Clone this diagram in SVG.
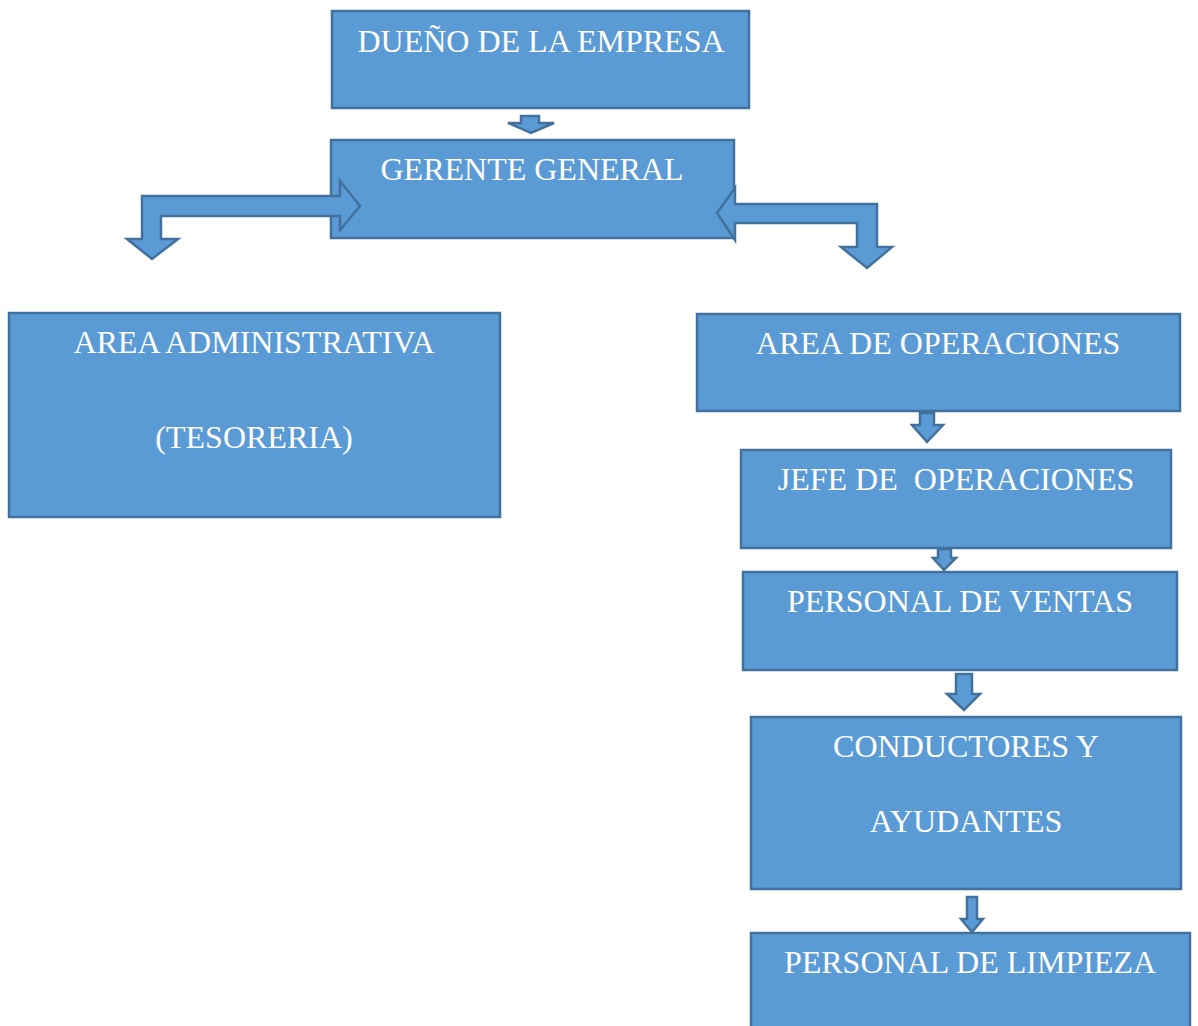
<svg xmlns="http://www.w3.org/2000/svg" width="1198" height="1026" viewBox="0 0 1198 1026">
<style>
.box{fill:#5B9BD5;stroke:#41719C;stroke-width:2.5}
.arr{fill:#5B9BD5;stroke:#41719C;stroke-width:2.5;stroke-linejoin:miter}
.t{font-family:"Liberation Serif","Times New Roman",serif;font-size:32px;fill:#FFFFFF;text-anchor:middle;white-space:pre}
</style>
<rect width="1198" height="1026" fill="#FFFFFF"/>
<g id="dueno"><rect class="box" x="332" y="11" width="417" height="97"/><text class="t" x="541" y="52">DUEÑO DE LA EMPRESA</text></g>
<g id="gerente"><rect class="box" x="331" y="140" width="403" height="98"/><text class="t" x="532" y="180">GERENTE GENERAL</text></g>
<g id="admin"><rect class="box" x="9" y="313" width="491" height="204"/><text class="t" x="254" y="353">AREA ADMINISTRATIVA</text><text class="t" x="254" y="448">(TESORERIA)</text></g>
<g id="operaciones"><rect class="box" x="697" y="314" width="483" height="97"/><text class="t" x="938" y="354">AREA DE OPERACIONES</text></g>
<g id="jefe"><rect class="box" x="741" y="450" width="430" height="98"/><text class="t" x="956" y="490">JEFE DE  OPERACIONES</text></g>
<g id="ventas"><rect class="box" x="743" y="572" width="434" height="98"/><text class="t" x="960" y="612">PERSONAL DE VENTAS</text></g>
<g id="conductores"><rect class="box" x="751" y="717" width="430" height="172"/><text class="t" x="966" y="757">CONDUCTORES Y</text><text class="t" x="966" y="832">AYUDANTES</text></g>
<g id="limpieza"><rect class="box" x="751" y="933" width="439" height="100"/><text class="t" x="970" y="973">PERSONAL DE LIMPIEZA</text></g>
<g id="connectors">
<path class="arr" d="M521,116 L539,116 L539,123 L554,123 L531,133 L508,123 L521,123 Z"/>
<path class="arr" d="M142,196 L340,196 L340,181 L360,206 L340,230 L340,216 L161,216 L161,239 L178,239 L152,259 L127,239 L142,239 Z"/>
<path class="arr" d="M717,213 L735,188 L735,204 L877,204 L877,247 L892,247 L867,268 L841,247 L857,247 L857,223 L735,223 L735,240 Z"/>
<path class="arr" d="M920,413 L934,413 L934,425 L943,425 L927,442 L912,425 L920,425 Z"/>
<path class="arr" d="M938,549 L951,549 L951,558 L956,558 L944,570 L933,558 L938,558 Z"/>
<path class="arr" d="M956,674 L972,674 L972,694 L980,694 L964,710 L947,694 L956,694 Z"/>
<path class="arr" d="M967,897 L977,897 L977,919 L983,919 L972,932 L961,919 L967,919 Z"/>
</g>
</svg>
